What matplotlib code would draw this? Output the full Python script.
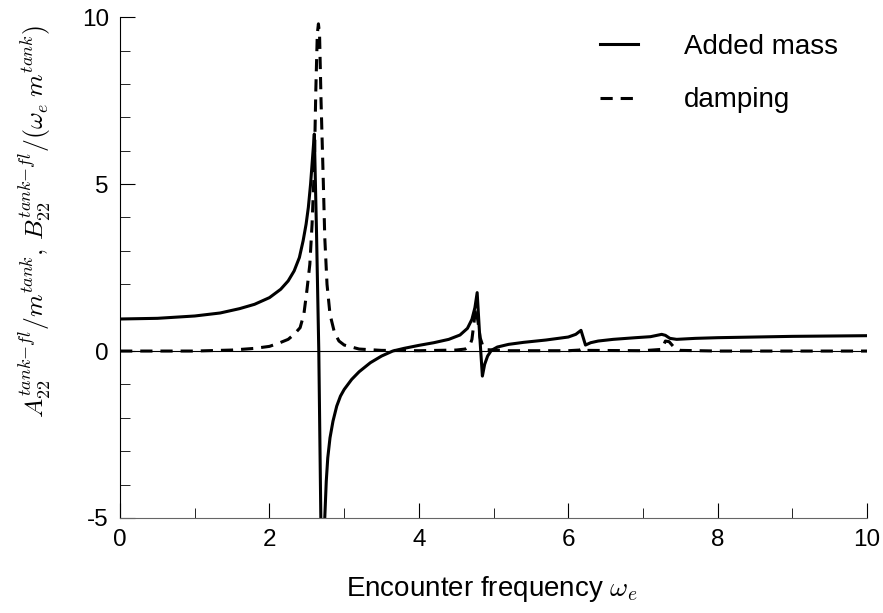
import numpy as np
import matplotlib.pyplot as plt
from matplotlib.ticker import MultipleLocator

plt.rcParams['font.family'] = ['Liberation Sans', 'DejaVu Sans']
plt.rcParams['mathtext.fontset'] = 'cm'
plt.rcParams['axes.unicode_minus'] = False

# added mass
omega_am = [0, 0.5, 1.0, 1.34, 1.6, 1.8, 2.0, 2.15, 2.25, 2.33, 2.4, 2.45, 2.49,
            2.52, 2.55, 2.58, 2.6, 2.63, 2.66, 2.69, 2.71, 2.74, 2.76, 2.78,
            2.81, 2.85, 2.9, 2.95, 3.0, 3.1, 3.2, 3.35, 3.5, 3.65, 3.8, 4.0,
            4.2, 4.4, 4.55, 4.65, 4.71, 4.75, 4.78, 4.81, 4.85, 4.88, 4.92,
            4.97, 5.05, 5.2, 5.4, 5.7, 6.0, 6.1, 6.17, 6.2, 6.23, 6.3, 6.4,
            6.6, 6.9, 7.1, 7.25, 7.3, 7.36, 7.45, 7.7, 8.0, 8.5, 9.0, 9.5, 10.0]
added_mass = [0.96, 0.98, 1.05, 1.14, 1.27, 1.4, 1.6, 1.85, 2.1, 2.4, 2.8, 3.3,
              3.8, 4.3, 5.0, 5.9, 6.5, 3.5, 0.0, -5.5, -9.0, -5.0, -3.9, -3.2,
              -2.6, -2.1, -1.65, -1.35, -1.15, -0.85, -0.62, -0.35, -0.15, 0.0,
              0.08, 0.17, 0.25, 0.35, 0.48, 0.68, 0.95, 1.3, 1.75, 0.6, -0.75,
              -0.4, -0.15, 0.02, 0.12, 0.2, 0.26, 0.33, 0.42, 0.5, 0.62, 0.4,
              0.18, 0.25, 0.3, 0.35, 0.4, 0.43, 0.5, 0.47, 0.38, 0.35, 0.38,
              0.4, 0.42, 0.44, 0.45, 0.46]

# damping
omega_d = [0, 1.0, 1.5, 1.8, 2.0, 2.14, 2.25, 2.33, 2.41, 2.46, 2.5, 2.54, 2.57,
           2.6, 2.62, 2.64, 2.655, 2.67, 2.69, 2.72, 2.74, 2.77, 2.81, 2.87,
           2.93, 3.0, 3.2, 3.5, 4.0, 4.5, 4.62, 4.68, 4.71, 4.74, 4.76, 4.79,
           4.82, 4.86, 4.92, 5.2, 6.0, 6.15, 6.2, 6.24, 7.0, 7.25, 7.3, 7.35,
           7.42, 7.5, 8.0, 10.0]
damping = [0, 0.0, 0.03, 0.08, 0.14, 0.25, 0.35, 0.5, 0.7, 1.1, 1.8, 2.6, 3.8,
           5.5, 7.8, 9.5, 9.8, 9.5, 7.5, 5.1, 3.4, 2.0, 1.1, 0.55, 0.3, 0.18,
           0.06, 0.02, 0.01, 0.03, 0.06, 0.15, 0.35, 0.9, 1.3, 0.9, 0.4, 0.12,
           0.04, 0.01, 0.01, 0.03, 0.08, 0.02, 0.01, 0.05, 0.3, 0.28, 0.1,
           0.02, 0.0, 0.0]

fig = plt.figure(figsize=(8.83, 6.13), dpi=100)
ax = fig.add_axes([0.136, 0.155, 0.846, 0.817])

ax.axhline(0, color='black', lw=0.8)
ax.plot(omega_am, added_mass, color='black', lw=2.2, label='Added mass')
ax.plot(omega_d, damping, color='black', lw=2.2, dashes=(4, 2.6), label='damping')

ax.set_xlim(0, 10)
ax.set_ylim(-5, 10)
ax.xaxis.set_major_locator(MultipleLocator(2))
ax.xaxis.set_minor_locator(MultipleLocator(1))
ax.yaxis.set_major_locator(MultipleLocator(5))
ax.yaxis.set_minor_locator(MultipleLocator(1))
ax.tick_params(which='both', direction='in', labelsize=17.5, pad=8)
ax.tick_params(which='major', length=11)
ax.tick_params(which='minor', length=7)
ax.spines['top'].set_visible(False)
ax.spines['right'].set_visible(False)
ax.spines['bottom'].set_color('#666666')

ax.set_xlabel(r'Encounter frequency $\omega_e$', fontsize=20)
ax.xaxis.set_label_coords(0.497, -0.112)
fig.text(0.04, 1 - 222 / 613,
         r'$A_{22}^{tank{-}fl}/m^{tank},\,B_{22}^{tank{-}fl}/(\omega_e\; m^{tank})$',
         rotation=90, ha='center', va='center', fontsize=18.5)

ax.legend(loc='upper left', frameon=False, fontsize=20, handlelength=1.37,
          handletextpad=1.65, labelspacing=1.0, borderpad=0, borderaxespad=0,
          bbox_to_anchor=(0.6426, 0.967))

fig.savefig('out.png', dpi=100)
